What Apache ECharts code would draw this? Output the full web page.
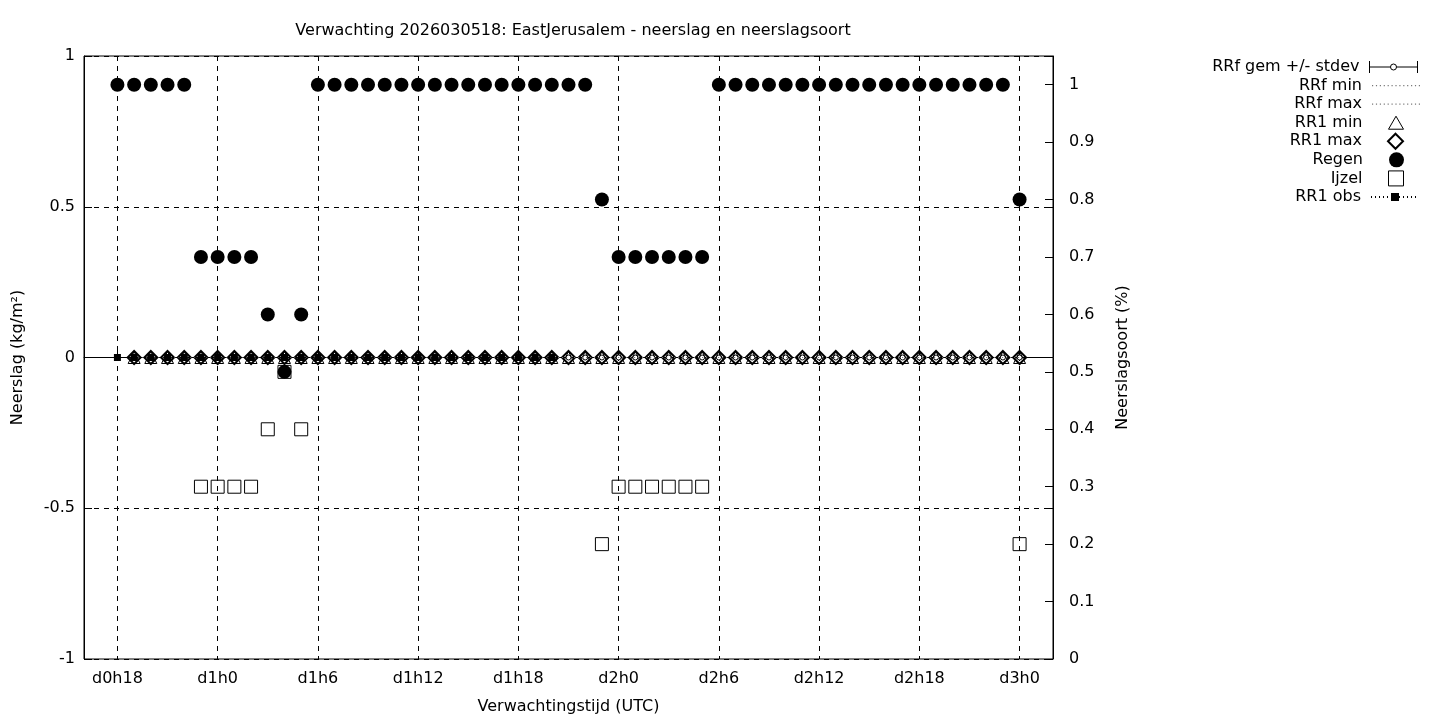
<!DOCTYPE html>
<html><head><meta charset="utf-8">
<script src="https://cdn.jsdelivr.net/npm/echarts@6/dist/echarts.min.js"></script>
<style>html,body{margin:0;padding:0;background:#fff}#c{width:1440px;height:720px}</style>
</head><body><div id="c"></div>
<script>
// hourly categories from d0h16 to d3h2
const categories = [
 'd0h16','d0h17','d0h18','d0h19','d0h20','d0h21','d0h22','d0h23',
 'd1h0','d1h1','d1h2','d1h3','d1h4','d1h5','d1h6','d1h7','d1h8','d1h9','d1h10','d1h11','d1h12','d1h13','d1h14','d1h15','d1h16','d1h17','d1h18','d1h19','d1h20','d1h21','d1h22','d1h23',
 'd2h0','d2h1','d2h2','d2h3','d2h4','d2h5','d2h6','d2h7','d2h8','d2h9','d2h10','d2h11','d2h12','d2h13','d2h14','d2h15','d2h16','d2h17','d2h18','d2h19','d2h20','d2h21','d2h22','d2h23',
 'd3h0','d3h1','d3h2'
];
const N = null;
// Neerslagsoort (fraction) - right axis
const regen = [N,N, 1,1,1,1,1, 0.7,0.7,0.7,0.7, 0.6,0.5,0.6,
 1,1,1,1,1,1,1,1,1,1,1,1,1,1,1,1,1,
 0.8, 0.7,0.7,0.7,0.7,0.7,0.7,
 1,1,1,1,1,1,1,1,1,1,1,1,1,1,1,1,1,1,
 0.8, N,N];
const ijzel = [N,N, N,N,N,N,N, 0.3,0.3,0.3,0.3, 0.4,0.5,0.4,
 N,N,N,N,N,N,N,N,N,N,N,N,N,N,N,N,N,
 0.2, 0.3,0.3,0.3,0.3,0.3,0.3,
 N,N,N,N,N,N,N,N,N,N,N,N,N,N,N,N,N,N,
 0.2, N,N];
// Neerslag (kg/m2) - left axis, hours d0h19 .. d3h0
const rrfMean = [N,N,N, 0,0,0,0,0,0,0,0,0,0,0,0,0,0,0,0,0,0,0,0,0,0,0,0,0,0,0,0,0,0,0,0,0,0,0,0,0,0,0,0,0,0,0,0,0,0,0,0,0,0,0,0,0,0, N,N];
const rrfStd  = [N,N,N, 0,0,0,0,0,0,0,0,0,0,0,0,0,0,0,0,0,0,0,0,0,0,0,0,0,0,0,0,0,0,0,0,0,0,0,0,0,0,0,0,0,0,0,0,0,0,0,0,0,0,0,0,0,0, N,N];
const rrfMin  = [N,N,N, 0,0,0,0,0,0,0,0,0,0,0,0,0,0,0,0,0,0,0,0,0,0,0,0,0,0,0,0,0,0,0,0,0,0,0,0,0,0,0,0,0,0,0,0,0,0,0,0,0,0,0,0,0,0, N,N];
const rrfMax  = [N,N,N, 0,0,0,0,0,0,0,0,0,0,0,0,0,0,0,0,0,0,0,0,0,0,0,0,0,0,0,0,0,0,0,0,0,0,0,0,0,0,0,0,0,0,0,0,0,0,0,0,0,0,0,0,0,0, N,N];
const rr1Min  = [N,N,N, 0,0,0,0,0,0,0,0,0,0,0,0,0,0,0,0,0,0,0,0,0,0,0,0,0,0,0,0,0,0,0,0,0,0,0,0,0,0,0,0,0,0,0,0,0,0,0,0,0,0,0,0,0,0, N,N];
const rr1Max  = [N,N,N, 0,0,0,0,0,0,0,0,0,0,0,0,0,0,0,0,0,0,0,0,0,0,0,0,0,0,0,0,0,0,0,0,0,0,0,0,0,0,0,0,0,0,0,0,0,0,0,0,0,0,0,0,0,0, N,N];
// observations d0h18 .. d1h20
const rr1Obs  = [N,N, 0,0,0,0,0,0,0,0,0,0,0,0,0,0,0,0,0,0,0,0,0,0,0,0,0,0,0,
 N,N,N,N,N,N,N,N,N,N,N,N,N,N,N,N,N,N,N,N,N,N,N,N,N,N,N,N,N,N];
const leftTicks = {min:-1, max:1, interval:0.5};
const rightTicks = {min:0, max:1.05, interval:0.1};
const legendNames = ['RRf gem +/- stdev','RRf min','RRf max','RR1 min','RR1 max','Regen','Ijzel','RR1 obs'];

const FONT = 'DejaVu Sans';
const FS = 16;
const BLACK = '#000';
const labelEvery6 = (idx) => (idx % 6 === 2);
const dash = [5, 5];

const errData = [];
rrfMean.forEach((m, i) => { if (m !== null) errData.push([i, m, rrfStd[i]]); });

const chart = echarts.init(document.getElementById('c'), null, {renderer:'canvas'});

const dotsPath = 'path://M0,0h1.2v1.2h-1.2z M4,0h1.2v1.2h-1.2z M8,0h1.2v1.2h-1.2z M12,0h1.2v1.2h-1.2z M16,0h1.2v1.2h-1.2z M20,0h1.2v1.2h-1.2z M24,0h1.2v1.2h-1.2z M28,0h1.2v1.2h-1.2z M32,0h1.2v1.2h-1.2z M36,0h1.2v1.2h-1.2z M40,0h1.2v1.2h-1.2z M44,0h1.2v1.2h-1.2z M48,0h1.2v1.2h-1.2z';
// legend icon layout per entry: [itemWidth, itemHeight, right, textPadRight]
const legendLayout = [
  [48, 12, 20, 5], [48, 1.2, 20, 5], [48, 1.2, 20, 5],
  [15, 13, 36, 21], [15, 15, 36, 21], [15, 15, 36, 21], [15, 15, 36, 21], [48, 10, 20, 5]
];
const legendItemStyle = [
  {color: 'none', borderColor: BLACK, borderWidth: 1},
  {color: '#777', borderWidth: 0},
  {color: '#777', borderWidth: 0},
  {color: 'rgba(0,0,0,0)', borderColor: BLACK, borderWidth: 1},
  {color: 'rgba(0,0,0,0)', borderColor: BLACK, borderWidth: 2},
  {color: BLACK, borderWidth: 0},
  {color: 'rgba(0,0,0,0)', borderColor: BLACK, borderWidth: 1},
  null
];
const legends = legendNames.map((n, i) => {
  const item = {name: n};
  if (i === 0) item.icon = 'path://M0,0V12M0,6H21M27,6H48M48,0V12M27,6A3,3,0,1,1,21,6A3,3,0,1,1,27,6';
  if (i === 1 || i === 2) item.icon = dotsPath;
  if (legendItemStyle[i]) item.itemStyle = legendItemStyle[i];
  const L = legendLayout[i];
  return {
    data: [item], orient: 'vertical', align: 'right', right: L[2], top: 58 + i * 18.57,
    padding: 0, itemWidth: L[0], itemHeight: L[1], selectedMode: false,
    textStyle: {color: BLACK, fontSize: FS, fontFamily: FONT, lineHeight: 18, padding: [0, L[3], 0, 0]}
  };
});

const option = {
  backgroundColor: '#fff',
  animation: false,
  textStyle: {fontFamily: FONT, color: BLACK},
  title: {
    text: 'Verwachting 2026030518: EastJerusalem - neerslag en neerslagsoort',
    left: 568, top: 18, textAlign: 'center',
    textStyle: {fontFamily: FONT, fontSize: FS, fontWeight: 'normal', color: BLACK}
  },
  legend: legends,
  grid: {left: 84, right: 387, top: 56, bottom: 60, show: true, borderColor: BLACK, borderWidth: 1, backgroundColor: 'transparent'},
  xAxis: {
    type: 'category', data: categories, boundaryGap: false,
    name: 'Verwachtingstijd (UTC)', nameLocation: 'middle', nameGap: 40,
    nameTextStyle: {fontFamily: FONT, fontSize: FS, color: BLACK},
    axisLine: {show: true, lineStyle: {color: BLACK, width: 1}},
    axisTick: {show: true, inside: true, length: 8, interval: labelEvery6, lineStyle: {color: BLACK}},
    axisLabel: {interval: labelEvery6, color: BLACK, fontSize: FS, fontFamily: FONT, margin: 12},
    splitLine: {show: true, interval: labelEvery6, lineStyle: {color: BLACK, type: dash, width: 1}}
  },
  yAxis: [
    {
      type: 'value', min: leftTicks.min, max: leftTicks.max, interval: leftTicks.interval, position: 'left',
      name: 'Neerslag (kg/m²)', nameLocation: 'middle', nameGap: 58,
      nameTextStyle: {fontFamily: FONT, fontSize: FS, color: BLACK},
      axisLine: {show: true, lineStyle: {color: BLACK}},
      axisTick: {show: true, inside: true, length: 8, lineStyle: {color: BLACK}},
      axisLabel: {color: BLACK, fontSize: FS, fontFamily: FONT, margin: 9},
      splitLine: {show: true, lineStyle: {color: BLACK, type: dash, width: 1}}
    },
    {
      type: 'value', min: rightTicks.min, max: rightTicks.max, interval: rightTicks.interval, position: 'right',
      name: 'Neerslagsoort (%)', nameLocation: 'middle', nameGap: 62,
      nameTextStyle: {fontFamily: FONT, fontSize: FS, color: BLACK},
      axisLine: {show: true, lineStyle: {color: BLACK}},
      axisTick: {show: true, inside: true, length: 8, lineStyle: {color: BLACK}},
      axisLabel: {color: BLACK, fontSize: FS, fontFamily: FONT, margin: 16,
        formatter: (v) => (v > 1.0001 ? '' : String(Math.round(v * 10) / 10))},
      splitLine: {show: false}
    },
    {
      type: 'value', min: leftTicks.min, max: leftTicks.max, interval: leftTicks.interval, position: 'right',
      axisLine: {show: false}, axisLabel: {show: false}, splitLine: {show: false},
      axisTick: {show: true, inside: true, length: 8, lineStyle: {color: BLACK}}
    }
  ],
  series: [
    {
      name: 'RRf gem +/- stdev', type: 'custom', yAxisIndex: 0, data: errData,
      encode: {x: 0, y: 1}, itemStyle: {color: BLACK},
      renderItem: function (params, api) {
        const x = api.value(0), m = api.value(1), s = api.value(2);
        const c = api.coord([x, m]);
        const hi = api.coord([x, m + s]);
        const lo = api.coord([x, m - s]);
        const cap = 7;
        const st = {stroke: BLACK, lineWidth: 1, fill: null};
        return {type: 'group', children: [
          {type: 'line', shape: {x1: c[0], y1: hi[1], x2: c[0], y2: lo[1]}, style: st},
          {type: 'line', shape: {x1: c[0] - cap, y1: hi[1], x2: c[0] + cap, y2: hi[1]}, style: st},
          {type: 'line', shape: {x1: c[0] - cap, y1: lo[1], x2: c[0] + cap, y2: lo[1]}, style: st},
          {type: 'circle', shape: {cx: c[0], cy: c[1], r: 2.5}, style: {stroke: BLACK, fill: '#fff', lineWidth: 1}}
        ]};
      }
    },
    {name: 'RRf min', type: 'line', yAxisIndex: 0, data: rrfMin, symbol: 'none', showSymbol: false,
      lineStyle: {color: '#777', width: 1, type: [1, 3]}, itemStyle: {color: '#777'}},
    {name: 'RRf max', type: 'line', yAxisIndex: 0, data: rrfMax, symbol: 'none', showSymbol: false,
      lineStyle: {color: '#777', width: 1, type: [1, 3]}, itemStyle: {color: '#777'}},
    {name: 'RR1 min', type: 'scatter', yAxisIndex: 0, data: rr1Min, symbol: 'triangle', symbolSize: 12,
      itemStyle: {color: 'rgba(0,0,0,0)', borderColor: BLACK, borderWidth: 1, opacity: 1}},
    {name: 'RR1 max', type: 'scatter', yAxisIndex: 0, data: rr1Max, symbol: 'diamond', symbolSize: 13,
      itemStyle: {color: 'rgba(0,0,0,0)', borderColor: BLACK, borderWidth: 2, opacity: 1}},
    {name: 'Regen', type: 'scatter', yAxisIndex: 1, data: regen, symbol: 'circle', symbolSize: 14,
      itemStyle: {color: BLACK, borderWidth: 0, opacity: 1}},
    {name: 'Ijzel', type: 'scatter', yAxisIndex: 1, data: ijzel, symbol: 'rect', symbolSize: 13,
      itemStyle: {color: 'rgba(0,0,0,0)', borderColor: BLACK, borderWidth: 1, opacity: 1}},
    {name: 'RR1 obs', type: 'line', yAxisIndex: 0, data: rr1Obs, symbol: 'rect', symbolSize: 7, showSymbol: true,
      lineStyle: {color: BLACK, width: 1, type: [1, 3]}, itemStyle: {color: BLACK, opacity: 1}}
  ]
};
chart.setOption(option);
</script>
</body></html>
